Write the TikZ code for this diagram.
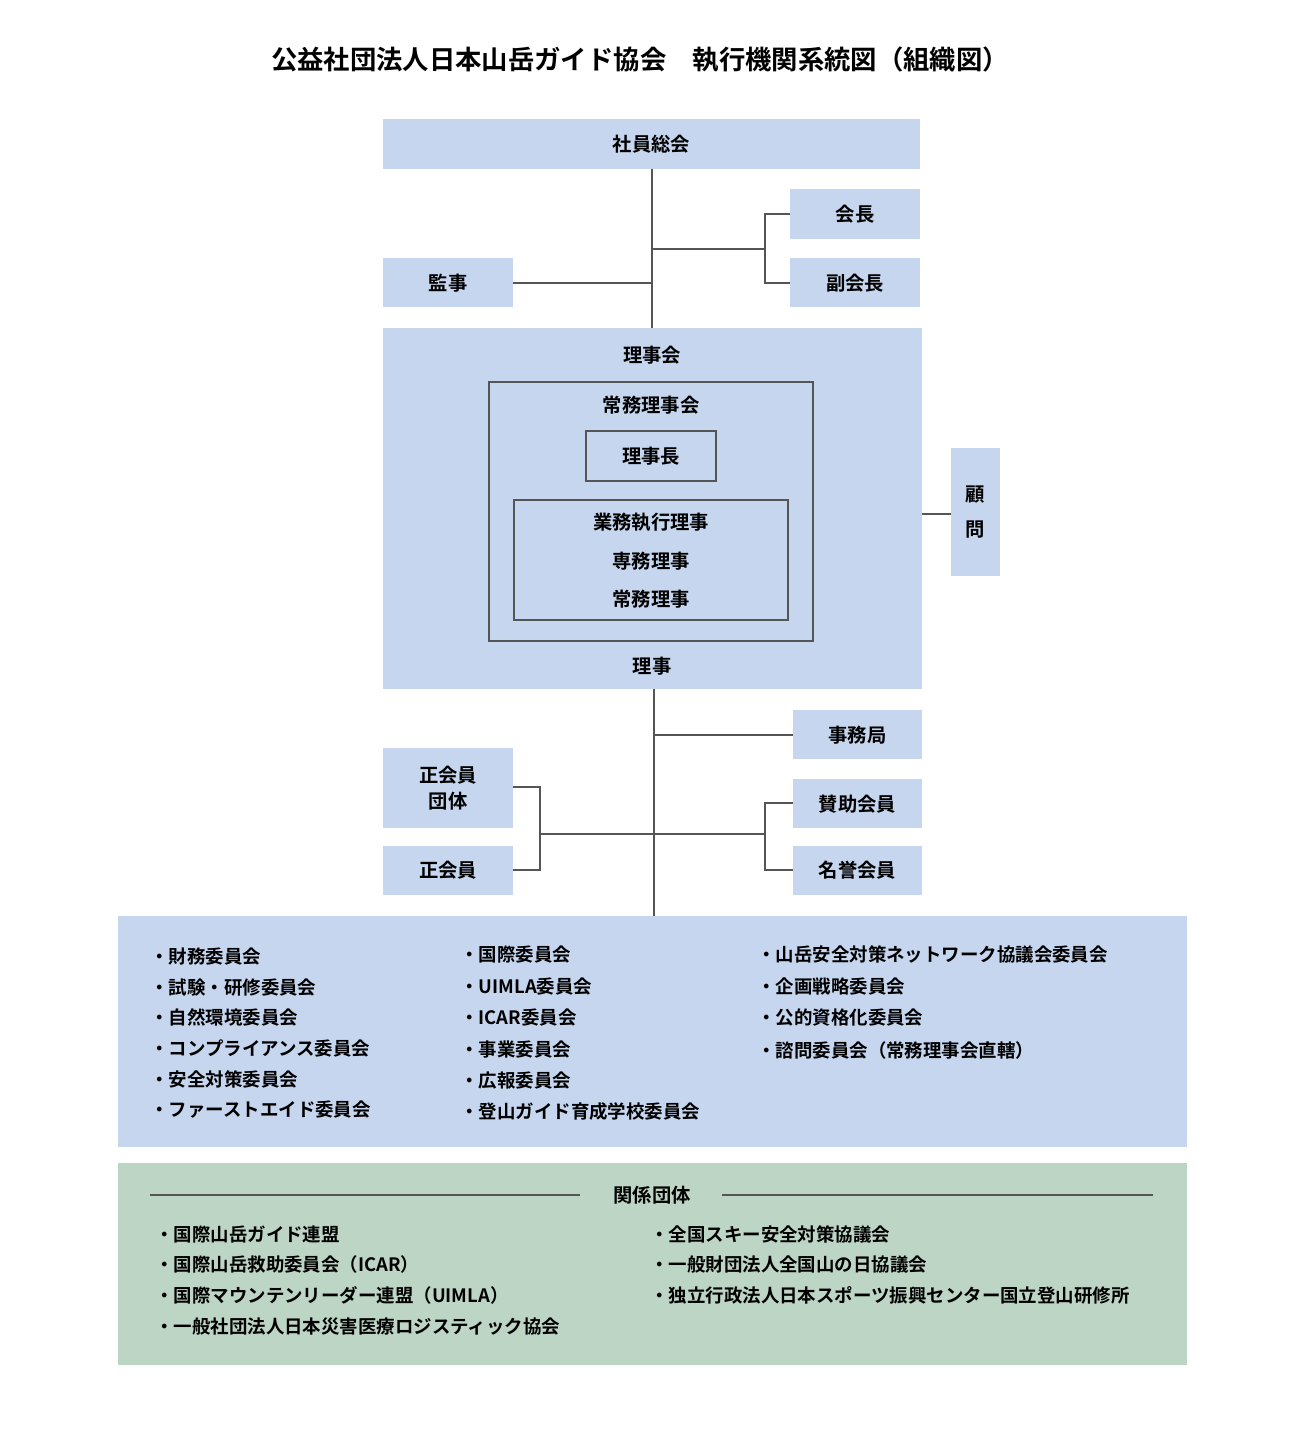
\documentclass[tikz,border=0pt]{standalone}
\usepackage{fontspec}
\setmainfont{Noto Sans CJK JP}[BoldFont={* Bold}]
\usetikzlibrary{positioning}
\definecolor{boxblue}{HTML}{C5D6EE}
\definecolor{boxgreen}{HTML}{BDD5C5}
\definecolor{linegray}{HTML}{555555}
\tikzset{
  box/.style={fill=boxblue, draw=none, inner sep=0pt, font=\bfseries\fontsize{11}{13}\selectfont},
  frame/.style={draw=linegray, line width=0.6pt},
  conn/.style={draw=linegray, line width=0.6pt},
  item/.style={anchor=west, inner sep=0pt, font=\bfseries\fontsize{10.5}{12}\selectfont},
}
\begin{document}
\begin{tikzpicture}[x=0.02cm, y=-0.02cm]
  \useasboundingbox (0,0) rectangle (1300,1432);

  \node[font=\bfseries\fontsize{15}{18}\selectfont] (title) at (640,60) {公益社団法人日本山岳ガイド協会\quad 執行機関系統図（組織図）};

  % upper part
  \node[box, minimum width=537\pgflinewidth] (soukai) at (651.5,144) {};
  \fill[boxblue] (383,119) rectangle (920,169);
  \node[box] (soukaiT) at (651.5,144) {社員総会};
  \fill[boxblue] (790,189) rectangle (920,239); \node[box] (kaichou) at (855,214) {会長};
  \fill[boxblue] (790,258) rectangle (920,307); \node[box] (fuku) at (855,283) {副会長};
  \fill[boxblue] (383,258) rectangle (513,307); \node[box] (kanji) at (448,283) {監事};
  \coordinate (top) at (652,169);
  \coordinate (bot) at (652,328);
  \draw[conn] (top) -- (bot);
  \draw[conn] (652,249) -- (765,249);
  \draw[conn] (790,214) -- (765,214) -- (765,283) -- (790,283);
  \draw[conn] (513,283) -- (652,283);

  % board
  \fill[boxblue] (383,328) rectangle (922,689);
  \node[box, fill=none] (rijikai) at (652,355) {理事会};
  \node[box, fill=none] (riji) at (652,666) {理事};
  \draw[frame] (489,382) rectangle (813,641);
  \node[box, fill=none] (joumu) at (651,405) {常務理事会};
  \draw[frame] (586,431) rectangle (716,481);
  \node[box, fill=none] (rijichou) at (651,456) {理事長};
  \draw[frame] (514,500) rectangle (788,620);
  \node[box, fill=none, align=center, font=\bfseries\fontsize{11}{22}\selectfont] (gyoumu) at (651,561) {業務執行理事\\専務理事\\常務理事};
  \fill[boxblue] (951,448) rectangle (1000,576);
  \node[box, align=center, font=\bfseries\fontsize{11}{20}\selectfont] (komon) at (975.5,512) {顧\\問};
  \draw[conn] (922,514) -- (951,514);

  % lower part
  \draw[conn] (654,689) -- (654,916);
  \fill[boxblue] (793,710) rectangle (922,759); \node[box] (jimu) at (857.5,735) {事務局};
  \fill[boxblue] (793,779) rectangle (922,828); \node[box] (sanjo) at (857.5,804) {賛助会員};
  \fill[boxblue] (793,846) rectangle (922,895); \node[box] (meiyo) at (857.5,870) {名誉会員};
  \fill[boxblue] (383,748) rectangle (513,828); \node[box, align=center, font=\bfseries\fontsize{11}{15}\selectfont] (seidan) at (448,788) {正会員\\団体};
  \fill[boxblue] (383,846) rectangle (513,895); \node[box] (seikai) at (448,870) {正会員};
  \draw[conn] (654,735) -- (793,735);
  \draw[conn] (793,803) -- (765,803) -- (765,870) -- (793,870);
  \draw[conn] (654,834) -- (765,834);
  \draw[conn] (513,787) -- (540,787) -- (540,870) -- (513,870);
  \draw[conn] (540,834) -- (654,834);

  % committees
  \fill[boxblue] (118,916) rectangle (1187,1147);
  \foreach \t [count=\i] in {財務委員会,試験・研修委員会,自然環境委員会,コンプライアンス委員会,安全対策委員会,ファーストエイド委員会}
    \node[item] (ca\i) at (150,926+30.6*\i) {・\t};
  \foreach \t [count=\i] in {国際委員会,UIMLA委員会,ICAR委員会,事業委員会,広報委員会,登山ガイド育成学校委員会}
    \node[item] (cb\i) at (460,923.5+31.4*\i) {・\t};
  \foreach \t [count=\i] in {山岳安全対策ネットワーク協議会委員会,企画戦略委員会,公的資格化委員会,諮問委員会（常務理事会直轄）}
    \node[item] (cc\i) at (757,922+32*\i) {・\t};

  % related organisations
  \fill[boxgreen] (118,1163) rectangle (1187,1365);
  \node[box, fill=none] (kankei) at (652,1195) {関係団体};
  \draw[conn] (150,1195) -- (580,1195);
  \draw[conn] (722,1195) -- (1153,1195);
  \foreach \t [count=\i] in {国際山岳ガイド連盟,国際山岳救助委員会（ICAR）,国際マウンテンリーダー連盟（UIMLA）,一般社団法人日本災害医療ロジスティック協会}
    \node[item] (ra\i) at (155,1203.3+30.7*\i) {・\t};
  \foreach \t [count=\i] in {全国スキー安全対策協議会,一般財団法人全国山の日協議会,独立行政法人日本スポーツ振興センター国立登山研修所}
    \node[item] (rb\i) at (650,1203.3+30.7*\i) {・\t};
\end{tikzpicture}
\end{document}
